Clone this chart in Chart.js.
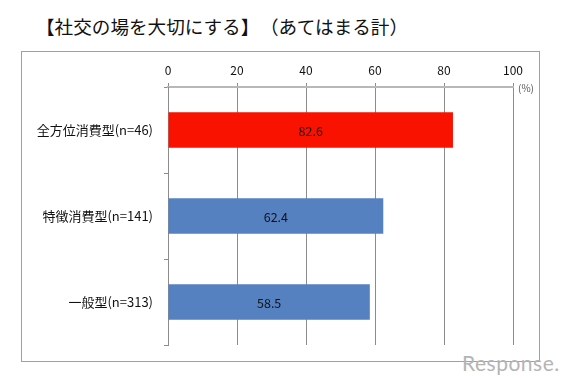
<!DOCTYPE html>
<html>
<head>
<meta charset="utf-8">
<script src="https://cdn.jsdelivr.net/npm/chart.js@4.4.1/dist/chart.umd.min.js"></script>
<style>
    body { margin: 0; background: #fff; }
    #wrap { position: relative; width: 581px; height: 386px; overflow: hidden; }
    .titulo { position: absolute; top: 12px; font: 18.6px "Noto Sans CJK JP", sans-serif; color: #111; white-space: nowrap; }
    #marco { position: absolute; left: 21px; top: 51px; width: 517px; height: 309px; border: 1px solid #a0a0a0; }
    #logo { position: absolute; left: 462px; top: 350px; font: 21px Lato, sans-serif; color: #b4b4b4; letter-spacing: 0.5px; }
    canvas { position: absolute; left: 0; top: 0; }
</style>
</head>
<body>
<div id="wrap">
    <div class="titulo" style="left: 36px;">【社交の場を大切にする】</div>
    <div class="titulo" style="left: 260px;">（あてはまる計）</div>
    <div id="marco"></div>
    <div id="logo">Response.</div>
    <canvas id="grafico" width="581" height="386"></canvas>
</div>
<script>
const categorias = ['全方位消費型(n=46)', '特徴消費型(n=141)', '一般型(n=313)'];
const valores = [82.6, 62.4, 58.5];
const colores = ['#f91200', '#5581c0', '#5581c0'];
const ticksX = [0, 20, 40, 60, 80, 100];

const fuente = "'Noto Sans CJK JP', 'Noto Sans', sans-serif";

// etiquetas de valor y unidad
const etiquetas = {
    id: 'etiquetas',
    afterDatasetsDraw(chart) {
        const ctx = chart.ctx;
        const meta = chart.getDatasetMeta(0);
        ctx.save();
        ctx.font = '12.5px ' + fuente;
        ctx.fillStyle = '#111';
        ctx.textAlign = 'center';
        ctx.textBaseline = 'middle';
        meta.data.forEach((bar, i) => {
            ctx.fillText(valores[i].toFixed(1), (bar.base + bar.x) / 2, bar.y + 1);
        });
        const x = chart.scales.x;
        ctx.font = '10px ' + fuente;
        ctx.fillStyle = '#555';
        ctx.textAlign = 'left';
        ctx.fillText('(%)', x.right + 5, x.bottom + 1);
        ctx.restore();
    }
};

new Chart(document.getElementById('grafico'), {
    type: 'bar',
    data: {
        labels: categorias,
        datasets: [{
            data: valores,
            backgroundColor: colores,
            barPercentage: 0.41,
            categoryPercentage: 1
        }]
    },
    options: {
        indexAxis: 'y',
        responsive: false,
        animation: false,
        layout: { padding: { left: 0, right: 68, top: 0, bottom: 41 } },
        plugins: { legend: { display: false }, tooltip: { enabled: false } },
        scales: {
            x: {
                position: 'top',
                min: 0,
                max: 100,
                afterBuildTicks: s => { s.ticks = ticksX.map(v => ({ value: v })); },
                afterFit: s => { s.height = 87; },
                ticks: { font: { family: fuente, size: 12 }, color: '#111', padding: 5 },
                grid: { color: '#8c8c8c', lineWidth: 1, tickLength: 4 },
                border: { color: '#b8b8b8', width: 2 }
            },
            y: {
                afterFit: s => { s.width = 168; },
                ticks: { font: { family: fuente, size: 13 }, color: '#111', padding: 11 },
                grid: { drawOnChartArea: false, tickLength: 4, color: '#8c8c8c' },
                border: { color: '#8c8c8c', width: 1 }
            }
        }
    },
    plugins: [etiquetas]
});
</script>
</body>
</html>
